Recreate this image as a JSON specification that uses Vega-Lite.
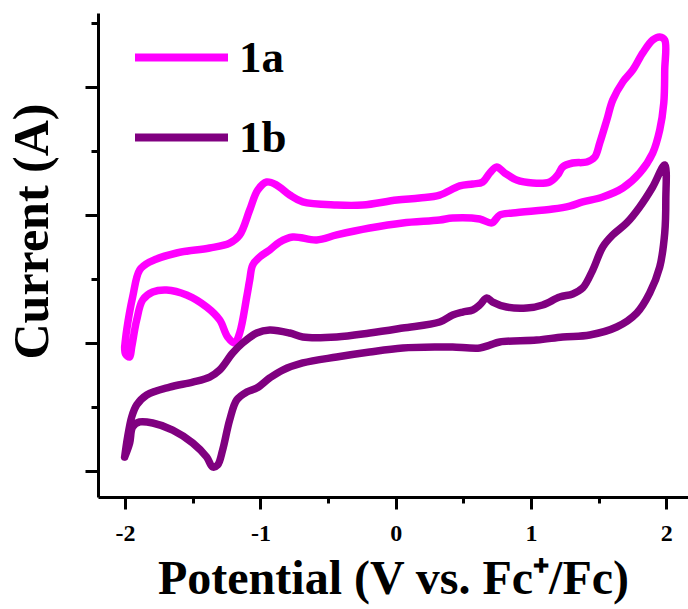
{
  "$schema": "https://vega.github.io/schema/vega-lite/v6.json",
  "autosize": "none",
  "width": 590,
  "height": 484,
  "padding": {"left": 98, "top": 13, "right": 0, "bottom": 112},
  "background": "white",
  "config": {"view": {"stroke": null}, "font": "Liberation Serif"},
  "data": {"values": [
    {"s":"1a","o":1,"x":-2.003,"y":0.969},{"s":"1a","o":2,"x":-1.988,"y":1.102},{"s":"1a","o":3,"x":-1.944,"y":1.359},{"s":"1a","o":4,"x":-1.892,"y":1.570},{"s":"1a","o":5,"x":-1.818,"y":1.633},{"s":"1a","o":6,"x":-1.619,"y":1.703},{"s":"1a","o":7,"x":-1.375,"y":1.742},{"s":"1a","o":8,"x":-1.227,"y":1.781},{"s":"1a","o":9,"x":-1.153,"y":1.844},{"s":"1a","o":10,"x":-1.079,"y":2.039},
    {"s":"1a","o":11,"x":-1.020,"y":2.195},{"s":"1a","o":12,"x":-0.953,"y":2.258},{"s":"1a","o":13,"x":-0.880,"y":2.234},{"s":"1a","o":14,"x":-0.783,"y":2.156},{"s":"1a","o":15,"x":-0.687,"y":2.102},{"s":"1a","o":16,"x":-0.436,"y":2.078},{"s":"1a","o":17,"x":-0.244,"y":2.078},{"s":"1a","o":18,"x":0.007,"y":2.117},{"s":"1a","o":19,"x":0.177,"y":2.133},{"s":"1a","o":20,"x":0.325,"y":2.156},
    {"s":"1a","o":21,"x":0.473,"y":2.227},{"s":"1a","o":22,"x":0.569,"y":2.242},{"s":"1a","o":23,"x":0.643,"y":2.258},{"s":"1a","o":24,"x":0.695,"y":2.328},{"s":"1a","o":25,"x":0.746,"y":2.375},{"s":"1a","o":26,"x":0.806,"y":2.328},{"s":"1a","o":27,"x":0.894,"y":2.273},{"s":"1a","o":28,"x":1.013,"y":2.250},{"s":"1a","o":29,"x":1.138,"y":2.258},{"s":"1a","o":30,"x":1.197,"y":2.313},
    {"s":"1a","o":31,"x":1.234,"y":2.375},{"s":"1a","o":32,"x":1.308,"y":2.406},{"s":"1a","o":33,"x":1.412,"y":2.414},{"s":"1a","o":34,"x":1.471,"y":2.453},{"s":"1a","o":35,"x":1.508,"y":2.563},{"s":"1a","o":36,"x":1.560,"y":2.742},{"s":"1a","o":37,"x":1.604,"y":2.898},{"s":"1a","o":38,"x":1.678,"y":3.039},{"s":"1a","o":39,"x":1.752,"y":3.133},{"s":"1a","o":40,"x":1.826,"y":3.266},
    {"s":"1a","o":41,"x":1.899,"y":3.367},{"s":"1a","o":42,"x":1.951,"y":3.391},{"s":"1a","o":43,"x":1.988,"y":3.367},{"s":"1a","o":44,"x":1.988,"y":3.133},{"s":"1a","o":45,"x":1.981,"y":2.875},{"s":"1a","o":46,"x":1.951,"y":2.664},{"s":"1a","o":47,"x":1.899,"y":2.484},{"s":"1a","o":48,"x":1.803,"y":2.328},{"s":"1a","o":49,"x":1.678,"y":2.211},{"s":"1a","o":50,"x":1.530,"y":2.141},
    {"s":"1a","o":51,"x":1.382,"y":2.102},{"s":"1a","o":52,"x":1.286,"y":2.070},{"s":"1a","o":53,"x":1.160,"y":2.047},{"s":"1a","o":54,"x":0.865,"y":2.016},{"s":"1a","o":55,"x":0.769,"y":2.000},{"s":"1a","o":56,"x":0.710,"y":1.938},{"s":"1a","o":57,"x":0.621,"y":1.969},{"s":"1a","o":58,"x":0.421,"y":1.977},{"s":"1a","o":59,"x":0.325,"y":1.961},{"s":"1a","o":60,"x":0.052,"y":1.938},
    {"s":"1a","o":61,"x":-0.192,"y":1.898},{"s":"1a","o":62,"x":-0.436,"y":1.844},{"s":"1a","o":63,"x":-0.584,"y":1.805},{"s":"1a","o":64,"x":-0.761,"y":1.828},{"s":"1a","o":65,"x":-0.857,"y":1.789},{"s":"1a","o":66,"x":-0.931,"y":1.727},{"s":"1a","o":67,"x":-1.005,"y":1.672},{"s":"1a","o":68,"x":-1.057,"y":1.609},{"s":"1a","o":69,"x":-1.079,"y":1.492},{"s":"1a","o":70,"x":-1.101,"y":1.359},
    {"s":"1a","o":71,"x":-1.153,"y":1.078},{"s":"1a","o":72,"x":-1.190,"y":1.000},{"s":"1a","o":73,"x":-1.242,"y":1.047},{"s":"1a","o":74,"x":-1.301,"y":1.180},{"s":"1a","o":75,"x":-1.397,"y":1.281},{"s":"1a","o":76,"x":-1.545,"y":1.375},{"s":"1a","o":77,"x":-1.693,"y":1.414},{"s":"1a","o":78,"x":-1.796,"y":1.398},{"s":"1a","o":79,"x":-1.870,"y":1.336},{"s":"1a","o":80,"x":-1.914,"y":1.180},
    {"s":"1a","o":81,"x":-1.951,"y":0.969},{"s":"1a","o":82,"x":-1.966,"y":0.891},{"s":"1a","o":83,"x":-1.996,"y":0.914},{"s":"1a","o":84,"x":-2.003,"y":0.969},
    {"s":"1b","o":1,"x":-2.003,"y":0.109},{"s":"1b","o":2,"x":-1.981,"y":0.266},{"s":"1b","o":3,"x":-1.951,"y":0.422},{"s":"1b","o":4,"x":-1.914,"y":0.516},{"s":"1b","o":5,"x":-1.840,"y":0.594},{"s":"1b","o":6,"x":-1.670,"y":0.656},{"s":"1b","o":7,"x":-1.500,"y":0.695},{"s":"1b","o":8,"x":-1.375,"y":0.734},{"s":"1b","o":9,"x":-1.301,"y":0.789},{"s":"1b","o":10,"x":-1.205,"y":0.922},
    {"s":"1b","o":11,"x":-1.131,"y":1.000},{"s":"1b","o":12,"x":-1.027,"y":1.078},{"s":"1b","o":13,"x":-0.931,"y":1.102},{"s":"1b","o":14,"x":-0.783,"y":1.078},{"s":"1b","o":15,"x":-0.687,"y":1.047},{"s":"1b","o":16,"x":-0.436,"y":1.047},{"s":"1b","o":17,"x":-0.192,"y":1.078},{"s":"1b","o":18,"x":0.052,"y":1.117},{"s":"1b","o":19,"x":0.325,"y":1.164},{"s":"1b","o":20,"x":0.421,"y":1.219},
    {"s":"1b","o":21,"x":0.495,"y":1.242},{"s":"1b","o":22,"x":0.569,"y":1.258},{"s":"1b","o":23,"x":0.621,"y":1.297},{"s":"1b","o":24,"x":0.673,"y":1.352},{"s":"1b","o":25,"x":0.717,"y":1.320},{"s":"1b","o":26,"x":0.820,"y":1.281},{"s":"1b","o":27,"x":0.968,"y":1.273},{"s":"1b","o":28,"x":1.086,"y":1.297},{"s":"1b","o":29,"x":1.212,"y":1.359},{"s":"1b","o":30,"x":1.308,"y":1.383},
    {"s":"1b","o":31,"x":1.382,"y":1.430},{"s":"1b","o":32,"x":1.456,"y":1.570},{"s":"1b","o":33,"x":1.530,"y":1.750},{"s":"1b","o":34,"x":1.604,"y":1.844},{"s":"1b","o":35,"x":1.707,"y":1.938},{"s":"1b","o":36,"x":1.803,"y":2.063},{"s":"1b","o":37,"x":1.899,"y":2.219},{"s":"1b","o":38,"x":1.988,"y":2.391},{"s":"1b","o":39,"x":1.996,"y":2.117},{"s":"1b","o":40,"x":1.988,"y":1.859},
    {"s":"1b","o":41,"x":1.951,"y":1.594},{"s":"1b","o":42,"x":1.877,"y":1.391},{"s":"1b","o":43,"x":1.781,"y":1.234},{"s":"1b","o":44,"x":1.633,"y":1.125},{"s":"1b","o":45,"x":1.434,"y":1.063},{"s":"1b","o":46,"x":1.234,"y":1.047},{"s":"1b","o":47,"x":1.042,"y":1.023},{"s":"1b","o":48,"x":0.769,"y":1.008},{"s":"1b","o":49,"x":0.695,"y":0.984},{"s":"1b","o":50,"x":0.621,"y":0.961},
    {"s":"1b","o":51,"x":0.421,"y":0.969},{"s":"1b","o":52,"x":0.325,"y":0.969},{"s":"1b","o":53,"x":0.052,"y":0.961},{"s":"1b","o":54,"x":-0.192,"y":0.930},{"s":"1b","o":55,"x":-0.436,"y":0.891},{"s":"1b","o":56,"x":-0.687,"y":0.844},{"s":"1b","o":57,"x":-0.835,"y":0.789},{"s":"1b","o":58,"x":-0.931,"y":0.727},{"s":"1b","o":59,"x":-1.027,"y":0.648},{"s":"1b","o":60,"x":-1.101,"y":0.617},
    {"s":"1b","o":61,"x":-1.175,"y":0.555},{"s":"1b","o":62,"x":-1.227,"y":0.398},{"s":"1b","o":63,"x":-1.279,"y":0.164},{"s":"1b","o":64,"x":-1.316,"y":0.047},{"s":"1b","o":65,"x":-1.353,"y":0.031},{"s":"1b","o":66,"x":-1.397,"y":0.109},{"s":"1b","o":67,"x":-1.500,"y":0.219},{"s":"1b","o":68,"x":-1.648,"y":0.320},{"s":"1b","o":69,"x":-1.796,"y":0.375},{"s":"1b","o":70,"x":-1.892,"y":0.383},
    {"s":"1b","o":71,"x":-1.944,"y":0.344},{"s":"1b","o":72,"x":-1.966,"y":0.219},{"s":"1b","o":73,"x":-2.003,"y":0.109}
  ]},
  "mark": {"type": "line", "strokeWidth": 7.5, "strokeJoin": "round", "strokeCap": "round", "interpolate": "catmull-rom", "clip": false},
  "encoding": {
    "x": {"field": "x", "type": "quantitative",
      "scale": {"domain": [-2.2, 2.16], "nice": false, "zero": false},
      "axis": {"values": [-2, -1.5, -1, -0.5, 0, 0.5, 1, 1.5, 2],
        "labelExpr": "datum.value % 1 === 0 ? '' + datum.value : ''",
        "grid": false, "domainColor": "black", "domainWidth": 3, "tickColor": "black", "tickWidth": 3,
        "tickSize": {"condition": {"test": "datum.value % 1 === 0", "value": 12}, "value": 6},
        "labelFont": "Liberation Serif", "labelFontWeight": "bold", "labelFontSize": 24, "labelColor": "black", "labelPadding": 12,
        "title": "Potential (V vs. Fc⁺/Fc)", "titleFont": "Liberation Serif", "titleFontWeight": "bold", "titleFontSize": 48, "titleColor": "black", "titlePadding": 10}},
    "y": {"field": "y", "type": "quantitative",
      "scale": {"domain": [-0.203, 3.578], "nice": false, "zero": false},
      "axis": {"values": [0, 0.5, 1, 1.5, 2, 2.5, 3, 3.5], "labels": false,
        "grid": false, "domainColor": "black", "domainWidth": 3, "tickColor": "black", "tickWidth": 3,
        "tickSize": {"condition": {"test": "datum.value % 1 === 0", "value": 13}, "value": 7},
        "title": "Current (A)", "titleFont": "Liberation Serif", "titleFontWeight": "bold", "titleFontSize": 50, "titleColor": "black", "titlePadding": 26, "titleY": 218}},
    "color": {"field": "s", "type": "nominal",
      "scale": {"domain": ["1a", "1b"], "range": ["#FF00FF", "#800080"]},
      "legend": {"orient": "none", "legendX": 33, "legendY": -6, "title": null,
        "symbolType": "stroke", "symbolSize": 8649, "symbolStrokeWidth": 8,
        "labelFont": "Liberation Serif", "labelFontWeight": "bold", "labelFontSize": 45, "labelColor": "black",
        "labelOffset": 7, "rowPadding": 6, "padding": 0}},
    "order": {"field": "o", "type": "quantitative"}
  }
}
